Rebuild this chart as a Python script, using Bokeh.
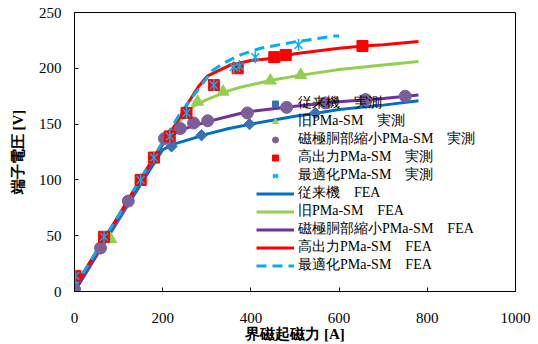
import math
from bokeh.plotting import figure
from bokeh.models import Legend, LegendItem
from bokeh.embed import file_html
from bokeh.resources import INLINE

# ---- measured data (実測) ----
conv_mx = [220, 288, 397, 546]
conv_my = [130, 140, 150, 160]

old_mx = [0, 82, 150, 279, 337, 444, 513]
old_my = [0, 47, 100, 170, 179, 189, 194]

small_mx = [0, 59, 122, 204, 240, 270, 302, 392, 481, 569, 660, 750]
small_my = [2, 39, 81, 137, 146, 151, 153, 160, 165, 169, 172, 175]

high_mx = [2, 67, 150, 180, 216, 254, 316, 370, 453, 479, 653]
high_my = [14, 49, 100, 120, 139, 160, 185, 200, 210, 212, 220]

opt_mx = [2, 67, 150, 180, 216, 254, 316, 361, 374, 410, 508]
opt_my = [14, 49, 100, 120, 139, 160, 185, 201, 202, 210, 221]

# ---- FEA curves ----
conv_fx = [0, 50, 100, 150, 200, 225, 250, 300, 350, 400, 500, 551, 600, 700, 780]
conv_fy = [0, 32, 64, 96, 127, 132, 135, 141, 146, 150, 157, 160, 163, 167, 171]

old_fx = [0, 50, 100, 150, 200, 250, 270, 300, 350, 376, 444, 500, 600, 700, 780]
old_fy = [0, 33, 66, 99, 132, 158, 166, 172, 180, 183, 189, 193, 199, 203, 206]

small_fx = [0, 50, 100, 150, 200, 220, 250, 300, 350, 392, 500, 600, 700, 780]
small_fy = [0, 33, 66, 99, 132, 140, 146, 152, 157, 161, 166, 170, 173, 176]

high_fx = [0, 50, 100, 150, 200, 233, 256, 280, 301, 354, 400, 451, 500, 600, 655, 700, 780]
high_fy = [4, 36, 68, 101, 133, 152, 168, 183, 193, 203, 207, 209, 213, 218, 220, 221, 224]

opt_fx = [0, 50, 100, 150, 200, 240, 286, 313, 340, 376, 422, 490, 540, 587, 600]
opt_fy = [4, 36, 68, 101, 134, 160, 184, 198, 205, 212, 218, 223, 226, 229, 229]

x_ticks = [0, 200, 400, 600, 800, 1000]
y_ticks = [0, 50, 100, 150, 200, 250]

labels_meas = ["従来機　実測", "旧PMa-SM　実測", "磁極胴部縮小PMa-SM　実測",
               "高出力PMa-SM　実測", "最適化PMa-SM　実測"]
labels_fea = ["従来機　FEA", "旧PMa-SM　FEA", "磁極胴部縮小PMa-SM　FEA",
              "高出力PMa-SM　FEA", "最適化PMa-SM　FEA"]

SERIF = "Liberation Serif"

p = figure(width=538, height=344, x_range=(0, 1000), y_range=(0, 250),
           output_backend="svg", toolbar_location=None,
           min_border_left=74, min_border_right=23, min_border_top=12, min_border_bottom=52)
p.xgrid.visible = False
p.ygrid.visible = False
p.outline_line_color = "black"
p.outline_line_width = 1
p.background_fill_color = "white"
p.border_fill_color = "white"

for ax, ticks in ((p.xaxis, x_ticks), (p.yaxis, y_ticks)):
    ax.ticker = ticks
    ax.major_tick_in = 4
    ax.major_tick_out = 0
    ax.minor_tick_line_color = None
    ax.axis_line_color = "black"
    ax.major_tick_line_color = "black"
    ax.major_label_text_font = SERIF
    ax.major_label_text_font_size = "15px"
    ax.major_label_text_color = "black"
    ax.axis_label_text_font = SERIF
    ax.axis_label_text_font_size = "15px"
    ax.axis_label_text_font_style = "bold"
    ax.axis_label_text_color = "black"

p.xaxis.axis_label = "界磁起磁力 [A]"
p.yaxis.axis_label = "端子電圧 [V]"
p.xaxis.major_label_standoff = 21
p.xaxis.axis_label_standoff = 0
p.yaxis.major_label_standoff = 13
p.yaxis.axis_label_standoff = 10

# FEA lines
l1 = p.line(conv_fx, conv_fy, line_color="#0070C0", line_width=3)
l2 = p.line(old_fx, old_fy, line_color="#92D050", line_width=3)
l3 = p.line(small_fx, small_fy, line_color="#7030A0", line_width=3)
l4 = p.line(high_fx, high_fy, line_color="#FF0000", line_width=3)
l5 = p.line(opt_fx, opt_fy, line_color="#00B0F0", line_width=3, line_dash="10 6")

# measured markers
m1 = p.scatter(conv_mx, conv_my, marker="square", size=8, angle=math.pi / 4,
               fill_color="#3A70B5", line_color="#3A70B5")
m2 = p.scatter(old_mx, old_my, marker="triangle", size=12,
               fill_color="#92D050", line_color="#92D050")
m3 = p.scatter(small_mx, small_my, marker="circle", size=12,
               fill_color="#7A5F99", line_color="#7A5F99")
m4 = p.scatter(high_mx, high_my, marker="square", size=11,
               fill_color="#FF0000", line_color="#FF0000")
m5a = p.scatter(opt_mx, opt_my, marker="x", size=11,
                line_color="#00B0F0", line_width=1.5)
m5b = p.scatter(opt_mx, opt_my, marker="dash", size=12, angle=math.pi / 2,
                line_color="#00B0F0", line_width=1.5)

items = [LegendItem(label=t, renderers=r) for t, r in
         zip(labels_meas + labels_fea,
             [[m1], [m2], [m3], [m4], [m5a, m5b], [l1], [l2], [l3], [l4], [l5]])]
legend = Legend(items=items, location=(182, 17), orientation="vertical",
                spacing=0, padding=0, margin=0,
                glyph_height=15, glyph_width=38, label_height=15, label_standoff=4,
                label_text_font=SERIF, label_text_font_size="14px",
                label_text_color="black",
                background_fill_alpha=0, border_line_alpha=0)
p.add_layout(legend, "center")

open("out.html", "w").write(file_html(p, INLINE))
